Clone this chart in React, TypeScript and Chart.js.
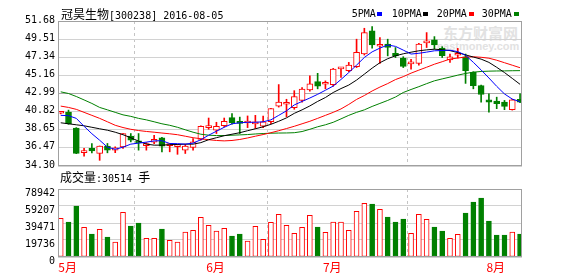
import React, { useEffect, useRef } from 'react';
import { Chart, registerables } from 'chart.js';

Chart.register(...registerables);

const stockName = '冠昊生物';
const stockCodeDate = '[300238] 2016-08-05';
const volumeTitle = '成交量';
const volumeValueText = ':30514 ';
const volumeUnit = '手';
const maNames = ['5PMA', '10PMA', '20PMA', '30PMA'];
const maColors = ['#0000ff', '#000000', '#ff0000', '#008000'];
const monthLabels = ['5月', '6月', '7月', '8月'];
const monthStartIdx = [0, 19, 34, 55];
const priceTicks = [34.3, 36.47, 38.65, 40.82, 42.99, 45.16, 47.34, 49.51, 51.68];
const volumeTicks = [0, 19736, 39471, 59207, 78942];

const openPrices = [40.62, 40.76, 38.86, 35.90, 36.41, 35.81, 36.68, 36.20, 36.60, 37.90,
  37.27, 36.75, 37.16, 37.67, 36.75, 36.62, 36.20, 36.52, 37.48, 38.90,
  38.58, 39.14, 40.10, 39.50, 39.45, 39.35, 39.06, 39.60, 41.48, 41.70,
  41.30, 42.16, 43.43, 44.42, 44.10, 44.06, 45.95, 45.73, 46.20, 47.72,
  50.49, 48.65, 48.90, 47.79, 47.24, 46.55, 46.60, 49.05, 49.42, 48.43,
  47.00, 47.58, 47.39, 45.53, 43.94, 42.24, 42.07, 41.95, 41.05, 42.28];
const highPrices = [40.85, 41.00, 38.90, 36.41, 37.00, 36.70, 37.00, 36.60, 38.20, 38.19,
  38.19, 37.10, 37.99, 37.75, 37.00, 36.90, 36.90, 37.60, 39.10, 40.05,
  39.54, 40.05, 40.57, 40.16, 40.30, 40.37, 40.28, 41.20, 44.06, 42.30,
  43.33, 43.70, 45.12, 45.41, 44.50, 46.00, 46.10, 46.72, 49.50, 50.81,
  51.00, 49.69, 49.50, 48.50, 47.40, 47.10, 49.00, 50.29, 49.81, 48.60,
  47.72, 48.40, 47.72, 45.60, 44.00, 42.95, 42.55, 42.16, 42.30, 42.95];
const lowPrices = [40.55, 39.30, 35.78, 35.48, 35.87, 34.98, 35.88, 35.90, 36.41, 37.19,
  36.20, 36.20, 36.98, 36.00, 36.00, 35.70, 35.80, 36.20, 37.40, 38.70,
  38.19, 38.98, 39.30, 38.19, 38.90, 38.80, 38.90, 39.38, 41.36, 40.20,
  41.10, 41.95, 43.27, 43.55, 43.55, 43.86, 44.93, 45.60, 46.10, 47.60,
  48.43, 46.60, 47.50, 47.30, 46.10, 45.90, 46.40, 48.50, 48.31, 47.30,
  46.72, 47.24, 44.20, 43.55, 41.95, 40.76, 41.17, 41.05, 41.00, 41.90];
const closePrices = [40.78, 39.38, 35.81, 35.96, 36.12, 36.68, 36.20, 36.48, 38.19, 37.39,
  37.07, 36.85, 37.51, 36.68, 36.85, 36.72, 36.68, 37.19, 39.06, 38.98,
  39.06, 39.66, 39.45, 39.40, 39.55, 39.45, 39.58, 41.17, 41.95, 41.80,
  42.62, 43.53, 44.14, 43.86, 44.18, 45.93, 46.05, 46.41, 47.91, 50.29,
  48.82, 48.75, 48.50, 47.48, 46.24, 46.65, 48.90, 49.15, 48.82, 47.51,
  47.39, 47.68, 45.73, 43.94, 42.87, 41.95, 41.76, 41.44, 42.24, 41.95];
const volumes = [44900, 40600, 59200, 34400, 26700, 32100, 23200, 17400, 51900, 36000,
  39500, 21700, 21700, 32500, 19350, 17400, 29000, 31000, 46000, 36800,
  30200, 33300, 24400, 26700, 18600, 35600, 20500, 40200, 49500, 36800,
  27500, 34400, 48400, 34800, 28600, 40600, 40600, 31000, 53000, 62300,
  61500, 55300, 46400, 40600, 44100, 27500, 49500, 43700, 34800, 30200,
  21700, 26300, 51100, 63900, 68500, 41800, 25500, 25500, 29000, 26700];
const ma5 = [40.37, 40.33, 40.01, 39.06, 38.17, 37.39, 36.56, 36.30, 36.56, 36.92,
  37.04, 37.16, 37.31, 37.33, 37.00, 36.98, 36.92, 37.04, 37.45, 37.99,
  38.47, 38.94, 39.36, 39.48, 39.54, 39.54, 39.60, 39.83, 40.37, 40.91,
  41.62, 42.04, 42.45, 42.89, 43.38, 43.88, 44.67, 45.50, 46.39, 47.31,
  47.98, 48.43, 48.80, 48.64, 48.19, 47.72, 47.81, 47.95, 48.11, 48.14,
  48.18, 48.01, 47.57, 46.73, 45.81, 44.85, 43.85, 42.94, 42.32, 42.00];
const ma10 = [39.48, 39.36, 39.24, 39.12, 38.94, 38.76, 38.59, 38.35, 38.05, 37.69,
  37.28, 36.92, 36.80, 36.80, 36.86, 36.88, 36.92, 36.92, 37.10, 37.45,
  37.69, 37.93, 38.11, 38.29, 38.53, 38.76, 39.00, 39.30, 39.66, 40.07,
  40.61, 41.03, 41.50, 42.04, 42.51, 43.11, 43.58, 44.00, 44.60, 45.31,
  46.03, 46.68, 47.16, 47.51, 47.75, 47.94, 48.11, 48.22, 48.30, 48.23,
  48.13, 47.89, 47.62, 47.36, 47.11, 46.72, 46.13, 45.50, 44.80, 44.09];
const ma20 = [41.48, 41.32, 41.09, 40.73, 40.37, 40.01, 39.60, 39.18, 38.91, 38.70,
  38.55, 38.44, 38.35, 38.25, 38.16, 38.05, 37.87, 37.69, 37.57, 37.45,
  37.36, 37.31, 37.36, 37.48, 37.66, 37.87, 38.07, 38.29, 38.53, 38.79,
  39.06, 39.36, 39.66, 40.01, 40.37, 40.73, 41.14, 41.68, 42.28, 42.75,
  43.29, 43.76, 44.18, 44.66, 45.01, 45.43, 45.79, 46.14, 46.50, 46.80,
  47.12, 47.24, 47.36, 47.39, 47.33, 47.22, 46.98, 46.68, 46.38, 46.08];
const ma30 = [43.19, 42.99, 42.63, 42.22, 41.80, 41.32, 41.03, 40.73, 40.43, 40.25,
  40.01, 39.83, 39.60, 39.36, 39.18, 38.94, 38.64, 38.35, 38.11, 37.99,
  37.95, 37.95, 37.99, 38.03, 38.07, 38.14, 38.19, 38.23, 38.25, 38.26,
  38.29, 38.43, 38.70, 39.00, 39.24, 39.54, 39.95, 40.37, 40.73, 41.03,
  41.44, 41.80, 42.16, 42.57, 43.11, 43.47, 43.81, 44.17, 44.51, 44.74,
  44.96, 45.19, 45.39, 45.55, 45.63, 45.67, 45.69, 45.70, 45.72, 45.73];

const maSeries = [ma5, ma10, ma20, ma30];

const UP = '#ff0000';
const DOWN = '#008000';
const MONO = "'DejaVu Sans Mono', monospace";
const CJK = "'Noto Sans CJK SC', sans-serif";

const framePlugin = {
  id: 'frame',
  afterDraw(chart: any) {
    const { ctx, chartArea: a } = chart;
    ctx.save();
    ctx.strokeStyle = '#a0a0a0';
    ctx.lineWidth = 1;
    ctx.setLineDash([]);
    const l = Math.round(a.left) + 0.5;
    const t = Math.round(a.top) + 0.5;
    const r = Math.round(a.right) - 0.5;
    const b = Math.round(a.bottom) - 0.5;
    ctx.strokeRect(l, t, r - l, b - t);
    ctx.restore();
  },
};

function makeX(showLabels: boolean) {
  return {
    type: 'linear',
    min: -0.35,
    max: 59.25,
    offset: false,
    afterBuildTicks: (axis: any) => {
      axis.ticks = monthStartIdx.map((v) => ({ value: v }));
    },
    afterFit: (axis: any) => {
      axis.height = showLabels ? 19 : 0;
    },
    grid: { color: '#c4c4c4', lineWidth: 1, drawTicks: false, drawOnChartArea: true },
    border: { display: false, dash: [3, 3] },
    ticks: {
      display: showLabels,
      autoSkip: false,
      maxRotation: 0,
      minRotation: 0,
      align: 'start',
      labelOffset: -2.5,
      padding: 3,
      color: '#ff0000',
      font: { family: CJK, size: 12 },
      callback: (v: any) => {
        const k = monthStartIdx.indexOf(Number(v));
        return k >= 0 ? monthLabels[k] : '';
      },
    },
  };
}

export default function App() {
  const mainRef = useRef<HTMLCanvasElement>(null);
  const volRef = useRef<HTMLCanvasElement>(null);

  useEffect(() => {
    const idx = closePrices.map((_, i) => i);
    const isUp = idx.map((i) => closePrices[i] >= openPrices[i]);
    const tickFont = { family: MONO, size: 10 };

    const main = new Chart(mainRef.current as HTMLCanvasElement, {
      type: 'bar',
      data: {
        datasets: [
          ...maNames.map((name, k) => ({
            type: 'line',
            label: name,
            data: maSeries[k].map((v, i) => ({ x: i, y: v })),
            borderColor: maColors[k],
            backgroundColor: maColors[k],
            borderWidth: 1,
            pointRadius: 0,
            tension: 0,
            fill: false,
            order: 0,
          })),
          {
            type: 'bar',
            label: 'body',
            data: idx.map((i) => ({ x: i, y: [openPrices[i], closePrices[i]] })),
            backgroundColor: idx.map((i) => (isUp[i] ? '#ffffff' : DOWN)),
            borderColor: idx.map((i) => (isUp[i] ? UP : DOWN)),
            borderWidth: 1,
            borderSkipped: false,
            barThickness: 6,
            minBarLength: 2,
            grouped: false,
            order: 1,
          },
          {
            type: 'bar',
            label: 'wick',
            data: idx.map((i) => ({ x: i, y: [lowPrices[i], highPrices[i]] })),
            backgroundColor: idx.map((i) => (isUp[i] ? UP : DOWN)),
            borderWidth: 0,
            barThickness: 1,
            grouped: false,
            order: 2,
          },
        ] as any,
      },
      options: {
        responsive: false,
        maintainAspectRatio: false,
        animation: false,
        events: [],
        layout: { padding: { top: 21, right: 56, bottom: 14, left: 0 } },
        plugins: { legend: { display: false }, tooltip: { enabled: false } },
        scales: {
          x: makeX(false) as any,
          y: {
            type: 'linear',
            min: 34.3,
            max: 51.68,
            afterBuildTicks: (axis: any) => {
              axis.ticks = priceTicks.map((v) => ({ value: v }));
            },
            afterFit: (axis: any) => {
              axis.width = 58;
            },
            grid: {
              drawTicks: false,
              color: (c: any) =>
                c.tick && Math.abs(c.tick.value - 42.99) < 0.001 ? '#a8a8a8' : '#d2d2d2',
            },
            border: { display: false },
            ticks: {
              font: tickFont,
              color: '#000000',
              padding: 3,
              labelOffset: -1,
              callback: (v: any) => Number(v).toFixed(2),
            },
          } as any,
        },
      },
      plugins: [framePlugin],
    });

    const vol = new Chart(volRef.current as HTMLCanvasElement, {
      type: 'bar',
      data: {
        datasets: [
          {
            label: volumeTitle,
            data: idx.map((i) => ({ x: i, y: volumes[i] })),
            backgroundColor: idx.map((i) => (isUp[i] ? '#ffffff' : DOWN)),
            borderColor: idx.map((i) => (isUp[i] ? UP : DOWN)),
            borderWidth: 1,
            borderSkipped: false,
            barThickness: 5,
          },
        ] as any,
      },
      options: {
        responsive: false,
        maintainAspectRatio: false,
        animation: false,
        events: [],
        layout: { padding: { top: 19, right: 56, bottom: 0, left: 0 } },
        plugins: { legend: { display: false }, tooltip: { enabled: false } },
        scales: {
          x: makeX(true) as any,
          y: {
            type: 'linear',
            min: 0,
            max: 78942,
            afterBuildTicks: (axis: any) => {
              axis.ticks = volumeTicks.map((v) => ({ value: v }));
            },
            afterFit: (axis: any) => {
              axis.width = 58;
            },
            grid: { drawTicks: false, color: '#d2d2d2' },
            border: { display: false },
            ticks: {
              font: tickFont,
              color: '#000000',
              padding: 3,
              labelOffset: 4,
              callback: (v: any) => String(v),
            },
          } as any,
        },
      },
      plugins: [framePlugin],
    });

    return () => {
      main.destroy();
      vol.destroy();
    };
  }, []);

  const legendTextX = [351.7, 391.7, 436.7, 481.7];
  const legendBoxX = [377.3, 423, 469, 514];

  return (
    <div
      style={{
        position: 'fixed',
        left: 0,
        top: 0,
        width: 578,
        height: 276,
        background: '#ffffff',
        overflow: 'hidden',
      }}
    >
      <div
        style={{
          position: 'absolute',
          left: 437,
          top: 25,
          color: '#e2e2e2',
          fontFamily: CJK,
          fontWeight: 700,
          fontSize: 15,
          lineHeight: '16px',
          whiteSpace: 'nowrap',
          paddingLeft: 6,
        }}
      >
        东方财富网
      </div>
      <div
        style={{
          position: 'absolute',
          left: 437,
          top: 40,
          color: '#e2e2e2',
          fontFamily: "'Liberation Sans', sans-serif",
          fontWeight: 700,
          fontSize: 11,
          lineHeight: '12px',
          whiteSpace: 'nowrap',
        }}
      >
        eastmoney.com
      </div>
      <canvas
        ref={mainRef}
        width={578}
        height={180}
        style={{ position: 'absolute', left: 0, top: 0, width: 578, height: 180 }}
      />
      <canvas
        ref={volRef}
        width={578}
        height={106}
        style={{ position: 'absolute', left: 0, top: 170, width: 578, height: 106 }}
      />
      <div
        style={{
          position: 'absolute',
          left: 61,
          top: 7,
          whiteSpace: 'nowrap',
          lineHeight: '14px',
          color: '#000',
        }}
      >
        <span style={{ fontFamily: CJK, fontSize: 12 }}>{stockName}</span>
        <span style={{ fontFamily: MONO, fontSize: 10 }}>{stockCodeDate}</span>
      </div>
      {maNames.map((name, k) => (
        <React.Fragment key={name}>
          <div
            style={{
              position: 'absolute',
              left: legendTextX[k],
              top: 7,
              fontFamily: MONO,
              fontSize: 10,
              lineHeight: '14px',
              color: '#000',
              whiteSpace: 'nowrap',
            }}
          >
            {name}
          </div>
          <div
            style={{
              position: 'absolute',
              left: legendBoxX[k],
              top: 12,
              width: 5,
              height: 4,
              background: maColors[k],
            }}
          />
        </React.Fragment>
      ))}
      <div
        style={{
          position: 'absolute',
          left: 60,
          top: 170,
          whiteSpace: 'nowrap',
          lineHeight: '14px',
          color: '#000',
        }}
      >
        <span style={{ fontFamily: CJK, fontSize: 12 }}>{volumeTitle}</span>
        <span style={{ fontFamily: MONO, fontSize: 10 }}>{volumeValueText}</span>
        <span style={{ fontFamily: CJK, fontSize: 12 }}>{volumeUnit}</span>
      </div>
    </div>
  );
}
